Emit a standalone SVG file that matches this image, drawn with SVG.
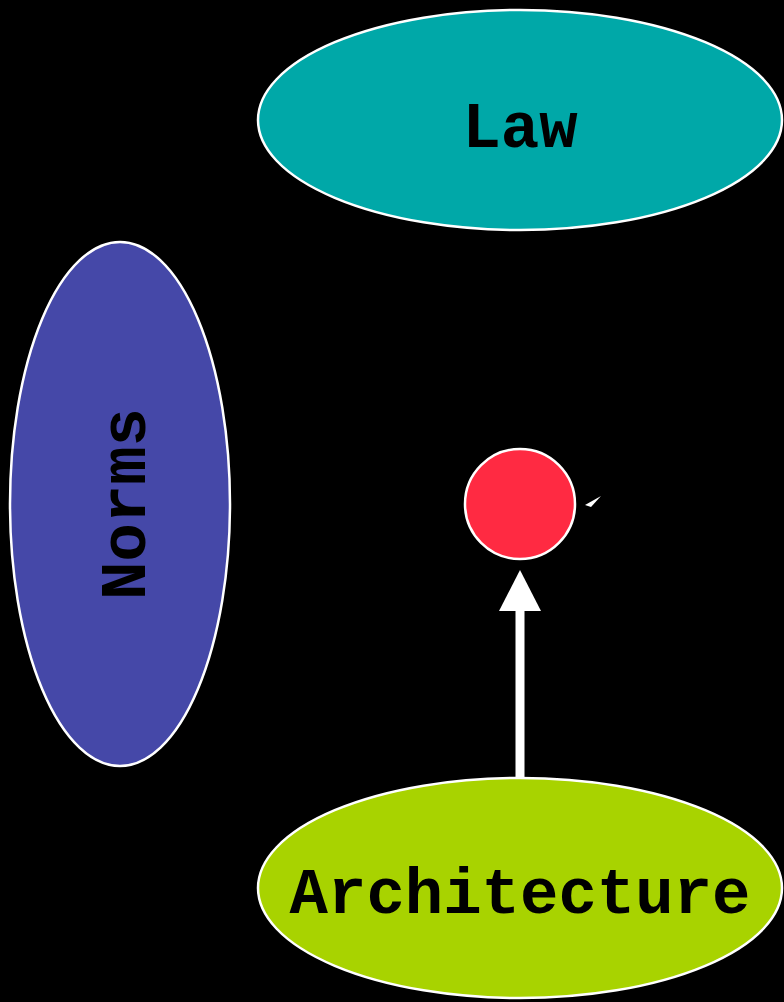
<svg xmlns="http://www.w3.org/2000/svg" width="784" height="1002" viewBox="0 0 784 1002">
<style>
.node{stroke:#fff;stroke-width:2.5}
.lbl{font-family:"Liberation Mono","Courier New",monospace;font-weight:bold;font-size:64px;fill:#000;text-anchor:middle}
</style>
<rect width="784" height="1002" fill="#000"/>
<g id="law"><ellipse class="node" cx="520" cy="120" rx="262" ry="110" fill="#00a8a8"/><text class="lbl" x="520" y="147">Law</text></g>
<g id="norms"><ellipse class="node" cx="120" cy="504" rx="110" ry="262" fill="#4548a8"/><text class="lbl" transform="translate(145,504) rotate(-90)" x="0" y="0">Norms</text></g>
<g id="dot"><circle class="node" cx="520" cy="504" r="55" fill="#ff2a42"/></g>
<g id="architecture"><ellipse class="node" cx="520" cy="888" rx="262" ry="110" fill="#a8d300"/><text class="lbl" x="520" y="913">Architecture</text></g>
<g id="connectors">
<rect x="515.5" y="608" width="9" height="169" fill="#fff"/>
<polygon points="520,570 499,611 541,611" fill="#fff"/>
<polygon points="585,505 601,496 591,507" fill="#fff"/>
</g>
</svg>
